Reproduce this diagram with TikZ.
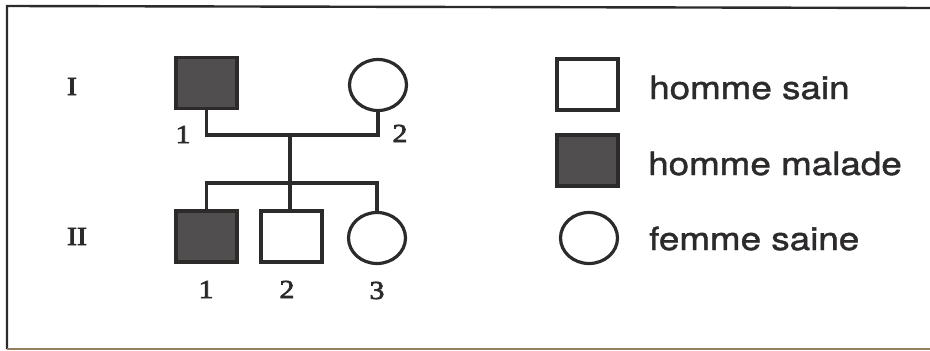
\documentclass[tikz,border=0pt]{standalone}
\usepackage{fontspec}
\setmainfont{Liberation Serif}
\newfontfamily\numfont{Liberation Serif}[FakeBold=2.5]
\newfontfamily\legfont{TeX Gyre Heros}[FakeBold=1.2]
\usepackage{graphicx}
\usetikzlibrary{shapes.geometric}
\definecolor{ink}{RGB}{45,42,42}
\definecolor{sick}{RGB}{80,78,78}
\definecolor{frameb}{RGB}{150,125,95}
\tikzset{
  male/.style={rectangle, draw=ink, line width=3.2pt, minimum width=61pt, minimum height=51pt, inner sep=0pt},
  malesick/.style={male, fill=sick},
  female/.style={ellipse, draw=ink, line width=3.2pt, minimum width=57pt, minimum height=51pt, inner sep=0pt},
  link/.style={draw=ink, line width=3.2pt},
  numlab/.style={inner sep=0pt, anchor=base, text=ink, font=\numfont\fontsize{26}{30}\selectfont},
  legtext/.style={inner sep=0pt, anchor=base west, text=ink, font=\legfont\fontsize{32}{36}\selectfont},
}
\begin{document}
\begin{tikzpicture}[x=1pt, y=-1pt]
\useasboundingbox (0,0) rectangle (930,351);
% frame
\draw[ink, line width=2.4pt] (7,349) -- (7,6) -- (930,8);
\draw[frameb, line width=1.6pt] (7,349) -- (930,349);
% generation labels
\node[numlab] (gI) at (72,95) {\scalebox{1.15}[1]{I}};
\node[numlab] (gII) at (77,245) {\scalebox{1.15}[1]{II}};
% generation I
\node[malesick] (I1) at (206.5,83) {};
\node[female] (I2) at (378,85) {};
\node[numlab] (lI1) at (183,143) {\scalebox{1.15}[1]{1}};
\node[numlab] (lI2) at (400,142) {\scalebox{1.15}[1]{2}};
% generation II
\node[malesick] (II1) at (206.5,236.5) {};
\node[male] (II2) at (291.5,236.5) {};
\node[female] (II3) at (377,238) {};
\node[numlab] (lII1) at (206,298) {\scalebox{1.15}[1]{1}};
\node[numlab] (lII2) at (287,298) {\scalebox{1.15}[1]{2}};
\node[numlab] (lII3) at (377,299) {\scalebox{1.15}[1]{3}};
% connectors
\coordinate (mar) at (290,135);
\coordinate (sib) at (290,183);
\draw[link] (I1.south) -- (I1.south |- mar) -- (I2.south |- mar) -- (I2.south);
\draw[link] (mar) -- (mar |- II2.north);
\draw[link] (II1.north) -- (II1.north |- sib) -- (II3.north |- sib) -- (II3.north);
% legend
\node[male] (k1) at (587.5,84.5) {};
\node[malesick] (k2) at (587.5,160.5) {};
\node[female] (k3) at (589,238) {};
\node[legtext] (t1) at (649,99) {\scalebox{1.15}[1]{homme sain}};
\node[legtext] (t2) at (648,175) {\scalebox{1.15}[1]{homme malade}};
\node[legtext] (t3) at (649,250) {\scalebox{1.15}[1]{femme saine}};
\end{tikzpicture}
\end{document}
